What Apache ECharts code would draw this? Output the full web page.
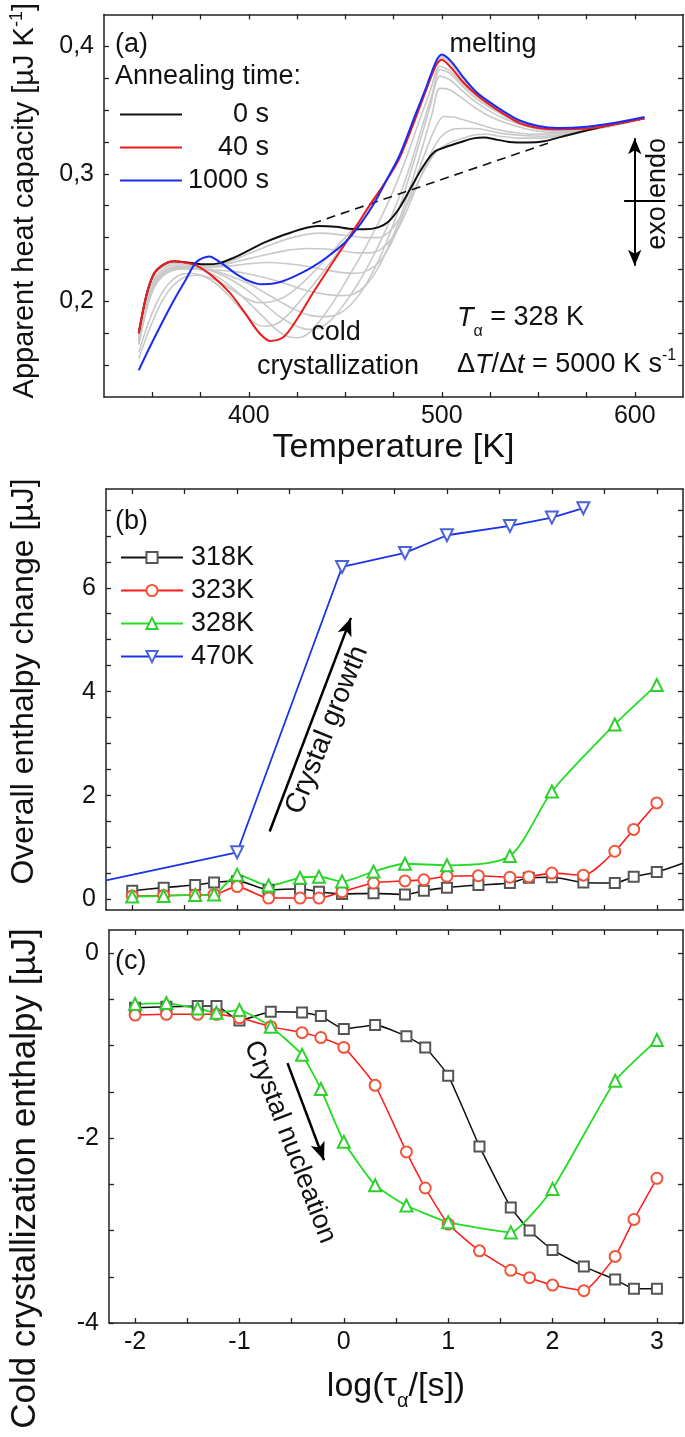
<!DOCTYPE html>
<html><head><meta charset="utf-8">
<script src="https://cdn.jsdelivr.net/npm/echarts@6/dist/echarts.min.js"></script>
<style>html,body{margin:0;padding:0;background:#fff}#c{width:685px;height:1437px}</style>
</head><body><div id="c"></div>
<script>
// ---------- Panel (a): apparent heat capacity vs temperature ----------
const cp_0s = [[343,0.175],[347,0.205],[351,0.222],[356,0.229],[361,0.2315],[368,0.2305],[378,0.229],[385,0.230],[392,0.234],[400,0.240],[408,0.246],[418,0.252],[428,0.257],[436,0.259],[445,0.2585],[452,0.257],[460,0.2565],[467,0.258],[472,0.262],[478,0.273],[484,0.289],[490,0.305],[496,0.317],[502,0.321],[510,0.325],[517,0.328],[522,0.3285],[528,0.327],[535,0.325],[545,0.3245],[553,0.3255],[562,0.329],[575,0.334],[590,0.339],[605,0.3435]];
const cp_40s = [[343,0.175],[347,0.205],[351,0.222],[356,0.229],[361,0.2315],[367,0.2305],[373,0.228],[381,0.220],[390,0.207],[398,0.191],[405,0.176],[411,0.169],[418,0.172],[425,0.186],[433,0.206],[442,0.227],[452,0.250],[462,0.274],[471,0.294],[478,0.312],[486,0.342],[492,0.366],[497,0.385],[500,0.3895],[505,0.383],[511,0.372],[518,0.362],[525,0.354],[532,0.347],[540,0.340],[550,0.336],[560,0.335],[575,0.3355],[590,0.339],[605,0.3435]];
const cp_1000s = [[343,0.146],[349,0.165],[356,0.186],[362,0.203],[367,0.216],[373,0.231],[379.5,0.2352],[386,0.2298],[393,0.222],[400,0.216],[406,0.2135],[412,0.2138],[418,0.216],[425,0.2205],[432,0.226],[440,0.234],[450,0.2463],[458,0.261],[465,0.277],[471,0.294],[478,0.314],[486,0.345],[492,0.368],[497,0.388],[500,0.3935],[505,0.388],[511,0.376],[518,0.364],[525,0.356],[532,0.349],[540,0.342],[550,0.3375],[560,0.336],[575,0.337],[590,0.340],[605,0.3445]];
const cp_g1 = [[343,0.173],[347,0.202],[351,0.220],[356,0.2275],[361,0.230],[368,0.2295],[378,0.2275],[385,0.2285],[392,0.2325],[400,0.2375],[410,0.2435],[420,0.249],[430,0.2525],[438,0.2535],[446,0.2525],[454,0.251],[461,0.250],[467,0.250],[473,0.255],[479,0.267],[485,0.285],[491,0.303],[497,0.317],[503,0.3235],[510,0.3275],[517,0.3305],[523,0.331],[530,0.3295],[540,0.328],[553,0.328],[565,0.3315],[580,0.3358],[595,0.3405],[605,0.3435]];
const cp_g2 = [[343,0.171],[347,0.199],[351,0.217],[356,0.2255],[361,0.2285],[368,0.2285],[376,0.227],[384,0.228],[392,0.2305],[400,0.2335],[410,0.237],[420,0.240],[430,0.2415],[440,0.241],[449,0.2395],[456,0.238],[463,0.238],[469,0.2415],[475,0.251],[481,0.268],[487,0.290],[493,0.312],[499,0.328],[504,0.334],[510,0.3355],[517,0.3355],[524,0.334],[532,0.3315],[542,0.330],[553,0.3295],[565,0.3315],[580,0.3355],[595,0.3403],[605,0.3435]];
const cp_g3 = [[343,0.169],[347,0.196],[351,0.214],[356,0.2235],[361,0.227],[368,0.2272],[376,0.2265],[384,0.227],[392,0.228],[400,0.2295],[410,0.2305],[420,0.2295],[430,0.2275],[440,0.2245],[449,0.2225],[456,0.222],[462,0.2245],[468,0.2315],[474,0.246],[480,0.268],[486,0.294],[492,0.319],[497,0.337],[501,0.345],[506,0.3445],[512,0.342],[520,0.3385],[528,0.335],[537,0.3325],[547,0.331],[558,0.3315],[570,0.3335],[585,0.337],[605,0.3435]];
const cp_g4 = [[343,0.167],[347,0.194],[351,0.2115],[356,0.2215],[361,0.225],[368,0.2258],[376,0.2255],[384,0.2245],[392,0.2235],[400,0.2215],[410,0.218],[420,0.2135],[430,0.2085],[440,0.2055],[448,0.2045],[454,0.2055],[460,0.2115],[466,0.2235],[472,0.2415],[478,0.264],[484,0.291],[490,0.321],[495,0.347],[499,0.367],[504,0.366],[510,0.360],[517,0.352],[525,0.345],[533,0.340],[542,0.336],[552,0.333],[562,0.3325],[577,0.3345],[592,0.3388],[605,0.3435]];
const cp_g5 = [[343,0.166],[347,0.193],[351,0.211],[356,0.2205],[361,0.2245],[368,0.2255],[376,0.225],[384,0.223],[392,0.219],[400,0.214],[408,0.207],[416,0.200],[424,0.1935],[432,0.189],[440,0.188],[447,0.1905],[453,0.1975],[459,0.209],[465,0.225],[471,0.245],[477,0.269],[483,0.297],[489,0.327],[494,0.353],[499,0.3766],[504,0.374],[510,0.366],[517,0.357],[525,0.349],[533,0.343],[542,0.338],[552,0.3345],[562,0.3335],[577,0.335],[592,0.339],[605,0.3435]];
const cp_g6 = [[343,0.168],[347,0.196],[351,0.2135],[356,0.2225],[361,0.226],[368,0.2265],[376,0.2255],[384,0.222],[392,0.216],[400,0.208],[408,0.198],[416,0.188],[424,0.181],[431,0.178],[437,0.1795],[443,0.186],[450,0.199],[457,0.215],[464,0.234],[471,0.256],[478,0.282],[484,0.308],[490,0.338],[495,0.362],[499,0.3818],[504,0.379],[510,0.370],[517,0.360],[525,0.352],[533,0.345],[542,0.3395],[552,0.3355],[562,0.334],[577,0.3352],[592,0.3393],[605,0.3435]];
const cp_g7 = [[343,0.170],[347,0.198],[351,0.215],[356,0.2235],[361,0.2265],[368,0.2265],[376,0.2245],[384,0.219],[392,0.210],[400,0.199],[408,0.187],[415,0.177],[421,0.172],[426,0.1715],[431,0.175],[437,0.185],[444,0.200],[452,0.220],[460,0.241],[468,0.264],[475,0.287],[482,0.314],[488,0.340],[494,0.365],[499,0.3844],[504,0.381],[510,0.372],[517,0.362],[525,0.353],[533,0.346],[542,0.340],[552,0.336],[562,0.3345],[577,0.3355],[592,0.3395],[605,0.3435]];
const cp_g8 = [[343,0.160],[348,0.183],[353,0.201],[358,0.213],[364,0.2205],[370,0.222],[376,0.220],[383,0.214],[390,0.204],[397,0.192],[403,0.183],[408,0.1805],[414,0.182],[420,0.189],[428,0.203],[436,0.218],[445,0.236],[455,0.256],[464,0.277],[472,0.297],[479,0.316],[486,0.344],[492,0.367],[497,0.386],[500,0.391],[505,0.386],[511,0.374],[518,0.363],[525,0.355],[532,0.348],[540,0.341],[550,0.337],[560,0.3355],[575,0.336],[590,0.3395],[605,0.344]];
const cp_g9 = [[343,0.155],[348,0.176],[354,0.197],[360,0.211],[366,0.2185],[372,0.2205],[378,0.2195],[385,0.215],[392,0.2085],[399,0.202],[405,0.199],[411,0.1995],[418,0.203],[425,0.2105],[433,0.222],[441,0.235],[450,0.250],[459,0.266],[467,0.283],[474,0.302],[480,0.320],[486,0.345],[492,0.368],[497,0.387],[500,0.392],[505,0.387],[511,0.375],[518,0.3635],[525,0.3555],[532,0.3485],[540,0.3415],[550,0.337],[560,0.3357],[575,0.3365],[590,0.3398],[605,0.344]];
const cp_baseline = [[433,0.261],[555,0.324]];
const tempTicks = [350,375,400,425,450,475,500,525,550,575,600];
const tempLabels = [400,500,600];
const cpTicks = [0.15,0.175,0.2,0.225,0.25,0.275,0.3,0.325,0.35,0.375,0.4];
const cpLabels = [0.2,0.3,0.4];

// ---------- Panels (b) and (c): log(annealing time) ----------
const logTime = [-2,-1.7,-1.4,-1.22,-1,-0.7,-0.4,-0.22,0,0.3,0.6,0.78,1,1.3,1.6,1.78,2,2.3,2.6,2.78,3];
const logTime328 = [-2,-1.7,-1.4,-1.22,-1,-0.7,-0.4,-0.22,0,0.3,0.6,1,1.6,2,2.6,3];
const logTime470 = [-2.25,-1,0,0.6,1,1.6,2,2.3];
const dH_318K = [0.17,0.23,0.28,0.33,0.36,0.19,0.21,0.15,0.11,0.12,0.10,0.17,0.23,0.28,0.32,0.42,0.43,0.33,0.32,0.44,0.53];
const dH_318K_tail = [3.25,0.70];
const dH_323K = [0.07,0.08,0.09,0.10,0.25,0.03,0.03,0.03,0.15,0.32,0.36,0.38,0.45,0.46,0.43,0.44,0.51,0.47,0.93,1.35,1.86];
const dH_328K = [0.06,0.07,0.09,0.10,0.48,0.27,0.42,0.44,0.35,0.54,0.69,0.66,0.84,2.08,3.37,4.13];
const dH_470K = [0.37,0.91,6.40,6.67,7.01,7.19,7.35,7.53];
const cc_318K = [-0.59,-0.58,-0.573,-0.573,-0.73,-0.634,-0.641,-0.68,-0.82,-0.777,-0.90,-1.02,-1.325,-2.09,-2.75,-3.0,-3.21,-3.39,-3.53,-3.63,-3.63];
const cc_323K = [-0.67,-0.662,-0.662,-0.662,-0.70,-0.795,-0.86,-0.913,-1.02,-1.43,-2.15,-2.54,-2.93,-3.22,-3.43,-3.51,-3.59,-3.65,-3.28,-2.88,-2.435];
const cc_328K = [-0.55,-0.54,-0.60,-0.645,-0.616,-0.795,-1.10,-1.47,-2.04,-2.51,-2.73,-2.91,-3.02,-2.55,-1.38,-0.94];
const logTicks = [-2,-1.5,-1,-0.5,0,0.5,1,1.5,2,2.5,3];
const logLabels = [-2,-1,0,1,2,3];
const dHTicks = [0,0.5,1,1.5,2,2.5,3,3.5,4,4.5,5,5.5,6,6.5,7,7.5];
const dHLabels = [0,2,4,6];
const ccTicks = [-4,-3.5,-3,-2.5,-2,-1.5,-1,-0.5,0];
const ccLabels = [-4,-2,0];

const FONT = "'Liberation Sans', Arial, Helvetica, sans-serif";
const AX = '#222';
const TXT = '#111';

function xAx(g, min, max, ticks, labels, pos, showLabel, name, gap, extra) {
  return Object.assign({
    type: 'value', gridIndex: g, min: min, max: max, position: pos,
    axisLine: {show: true, onZero: false, lineStyle: {color: AX, width: 1.5}},
    axisTick: {show: true, inside: true, length: 5, customValues: ticks, lineStyle: {color: AX, width: 1.3}},
    axisLabel: {show: showLabel, customValues: labels, fontSize: 25, fontFamily: FONT, color: TXT, margin: 7},
    splitLine: {show: false},
    name: name || '', nameLocation: 'middle', nameGap: gap || 0,
    nameTextStyle: {fontSize: 34, fontFamily: FONT, color: TXT}
  }, extra || {});
}
function yAx(g, min, max, ticks, labels, pos, showLabel, name, gap, extra) {
  return Object.assign({
    type: 'value', gridIndex: g, min: min, max: max, position: pos,
    axisLine: {show: true, onZero: false, lineStyle: {color: AX, width: 1.5}},
    axisTick: {show: true, inside: true, length: 5, customValues: ticks, lineStyle: {color: AX, width: 1.3}},
    axisLabel: {show: showLabel, customValues: labels, fontSize: 25, fontFamily: FONT, color: TXT, margin: 10},
    splitLine: {show: false},
    name: name || '', nameLocation: 'middle', nameGap: gap || 0,
    nameTextStyle: {fontSize: 31, fontFamily: FONT, color: TXT}
  }, extra || {});
}

const comma = v => v.toFixed(1).replace('.', ',');

const series = [];
[cp_g1, cp_g2, cp_g3, cp_g4, cp_g5, cp_g6, cp_g7, cp_g8, cp_g9].forEach((d, i) => {
  series.push({type: 'line', name: 'gray' + (i + 1), xAxisIndex: 0, yAxisIndex: 0, data: d,
    symbol: 'none', smooth: 0.3, z: 2, lineStyle: {color: '#c9c9c9', width: 1.6}, silent: true});
});
series.push({type: 'line', name: 'baseline', xAxisIndex: 0, yAxisIndex: 0, data: cp_baseline,
  symbol: 'none', z: 3, lineStyle: {color: '#111', width: 1.6, type: [9, 6]}, silent: true,
  markLine: {silent: true, animation: false, label: {show: false}, emphasis: {disabled: true},
    lineStyle: {color: '#000', width: 2, type: 'solid'}, symbol: ['arrow', 'arrow'], symbolSize: [10, 16],
    data: [
      [{coord: [600, 0.328]}, {coord: [600, 0.228]}],
      [{coord: [594.5, 0.279], symbol: 'none'}, {coord: [615.7, 0.279], symbol: 'none'}]
    ]}
});
series.push({type: 'line', name: '0 s', xAxisIndex: 0, yAxisIndex: 0, data: cp_0s, symbol: 'none', smooth: 0.3, z: 4, lineStyle: {color: '#111', width: 2}, itemStyle: {color: '#111'}});
series.push({type: 'line', name: '40 s', xAxisIndex: 0, yAxisIndex: 0, data: cp_40s, symbol: 'none', smooth: 0.3, z: 5, lineStyle: {color: '#ee1c1c', width: 2}, itemStyle: {color: '#ee1c1c'}});
series.push({type: 'line', name: '1000 s', xAxisIndex: 0, yAxisIndex: 0, data: cp_1000s, symbol: 'none', smooth: 0.3, z: 6, lineStyle: {color: '#1a2cf0', width: 2}, itemStyle: {color: '#1a2cf0'}});

function pairs(xs, ys) { return xs.map((x, i) => [x, ys[i]]); }

// (b)
series.push({type: 'line', name: '318K', xAxisIndex: 2, yAxisIndex: 2,
  data: pairs(logTime, dH_318K).concat([{value: dH_318K_tail, symbol: 'none'}]),
  symbol: 'emptyRect', symbolSize: 10, smooth: 0.25, z: 5,
  lineStyle: {color: '#111', width: 1.6}, itemStyle: {color: '#555', borderWidth: 1.3}});
series.push({type: 'line', name: '323K', xAxisIndex: 2, yAxisIndex: 2, data: pairs(logTime, dH_323K),
  symbol: 'emptyCircle', symbolSize: 11, smooth: 0.25, z: 5,
  lineStyle: {color: '#ff1a1a', width: 1.6}, itemStyle: {color: '#f0553a', borderWidth: 1.3}});
series.push({type: 'line', name: '328K', xAxisIndex: 2, yAxisIndex: 2, data: pairs(logTime328, dH_328K),
  symbol: 'emptyTriangle', symbolSize: 12, smooth: 0.25, z: 5,
  lineStyle: {color: '#22dd22', width: 1.8}, itemStyle: {color: '#2fcf2f', borderWidth: 1.3}});
series.push({type: 'line', name: '470K', xAxisIndex: 2, yAxisIndex: 2,
  data: pairs(logTime470, dH_470K).map((p, i) => i === 0 ? {value: p, symbol: 'none'} : p),
  symbol: 'emptyTriangle', symbolRotate: 180, symbolSize: 12, z: 5,
  lineStyle: {color: '#1a33e6', width: 1.8}, itemStyle: {color: '#4a63d8', borderWidth: 1.3},
  markLine: {silent: true, animation: false, label: {show: false}, emphasis: {disabled: true},
    lineStyle: {color: '#000', width: 2.5, type: 'solid'}, symbol: ['none', 'arrow'], symbolSize: [11, 18],
    data: [[{coord: [-0.69, 1.31]}, {coord: [0.085, 5.42]}]]}
});
// (c)
series.push({type: 'line', name: '318K', xAxisIndex: 4, yAxisIndex: 4, data: pairs(logTime, cc_318K),
  symbol: 'emptyRect', symbolSize: 10, smooth: 0.15, z: 5,
  lineStyle: {color: '#111', width: 1.5}, itemStyle: {color: '#555', borderWidth: 1.3}});
series.push({type: 'line', name: '323K', xAxisIndex: 4, yAxisIndex: 4, data: pairs(logTime, cc_323K),
  symbol: 'emptyCircle', symbolSize: 11, smooth: 0.15, z: 5,
  lineStyle: {color: '#ff1a1a', width: 1.5}, itemStyle: {color: '#f0553a', borderWidth: 1.3}});
series.push({type: 'line', name: '328K', xAxisIndex: 4, yAxisIndex: 4, data: pairs(logTime328, cc_328K),
  symbol: 'emptyTriangle', symbolSize: 12, smooth: 0.15, z: 5,
  lineStyle: {color: '#22dd22', width: 1.8}, itemStyle: {color: '#2fcf2f', borderWidth: 1.3},
  markLine: {silent: true, animation: false, label: {show: false}, emphasis: {disabled: true},
    lineStyle: {color: '#000', width: 2.5, type: 'solid'}, symbol: ['none', 'arrow'], symbolSize: [11, 18],
    data: [[{coord: [-0.54, -1.19]}, {coord: [-0.19, -2.24]}]]}
});

function txt(x, y, text, st, extra) {
  return Object.assign({type: 'text', x: x, y: y, z: 100, silent: true,
    style: Object.assign({text: text, fontSize: 27, fontFamily: FONT, fill: TXT, align: 'left', verticalAlign: 'middle'}, st || {})}, extra || {});
}
const richA = {
  i: {fontSize: 27, fontFamily: FONT, fontStyle: 'italic', fill: TXT},
  n: {fontSize: 27, fontFamily: FONT, fill: TXT},
  s: {fontSize: 16, fontFamily: FONT, fill: TXT, verticalAlign: 'bottom', padding: [27, 0, 0, 0]},
  p: {fontSize: 16, fontFamily: FONT, fill: TXT, verticalAlign: 'top', padding: [0, 0, 18, 0]}
};

const graphic = [
  txt(115, 45, '(a)'),
  txt(115, 77, 'Annealing time:'),
  txt(493, 45, 'melting', {align: 'center'}),
  txt(336, 333, 'cold', {align: 'center'}),
  txt(338, 367, 'crystallization', {align: 'center'}),
  txt(457, 318, '{i|T}{s|α}{n| = 328 K}', {rich: richA}),
  txt(457, 365, '{n|Δ}{i|T}{n|/Δ}{i|t}{n| = 5000 K s}{p|-1}', {rich: richA}),
  txt(658, 168, 'endo', {align: 'center'}, {rotation: Math.PI / 2}),
  txt(658, 228, 'exo', {align: 'center'}, {rotation: Math.PI / 2}),
  txt(115, 522, '(b)'),
  txt(327, 730, 'Crystal growth', {align: 'center', fontSize: 28}, {rotation: 68 * Math.PI / 180}),
  txt(115, 962, '(c)'),
  txt(290, 1142, 'Crystal nucleation', {align: 'center'}, {rotation: -69 * Math.PI / 180})
];

const option = {
  animation: false,
  backgroundColor: '#fff',
  textStyle: {fontFamily: FONT},
  grid: [
    {left: 102, top: 13, width: 581, height: 384},
    {left: 102, top: 489, width: 581, height: 421},
    {left: 102, top: 930, width: 581, height: 393}
  ],
  xAxis: [
    xAx(0, 325, 625, tempTicks, tempLabels, 'bottom', true, 'Temperature [K]', 34),
    xAx(0, 325, 625, tempTicks, [], 'top', false),
    xAx(1, -2.25, 3.25, logTicks, [], 'bottom', false),
    xAx(1, -2.25, 3.25, logTicks, [], 'top', false),
    xAx(2, -2.25, 3.25, logTicks, logLabels, 'bottom', true, 'log(τ{s|α}/[s])', 40,
      {nameTextStyle: {fontSize: 34, fontFamily: FONT, color: TXT,
        rich: {s: {fontSize: 20, fontFamily: FONT, color: TXT, verticalAlign: 'bottom', padding: [28, 0, 0, 0]}}}}),
    xAx(2, -2.25, 3.25, logTicks, [], 'top', false)
  ],
  yAxis: [
    yAx(0, 0.125, 0.425, cpTicks, cpLabels, 'left', true, 'Apparent heat capacity [µJ K{p|-1}]', 62,
      {axisLabel: {customValues: cpLabels, fontSize: 25, fontFamily: FONT, color: TXT, margin: 10, formatter: comma},
       nameTextStyle: {fontSize: 29, fontFamily: FONT, color: TXT, padding: [0, 0, 0, 10],
        rich: {p: {fontSize: 18, fontFamily: FONT, color: TXT, verticalAlign: 'top', padding: [0, 0, 16, 0]}}}}),
    yAx(0, 0.125, 0.425, cpTicks, [], 'right', false),
    yAx(1, -0.2, 7.9, dHTicks, dHLabels, 'left', true, 'Overall enthalpy change [µJ]', 66,
      {nameTextStyle: {fontSize: 32, fontFamily: FONT, color: TXT, padding: [0, 0, 0, 36]}}),
    yAx(1, -0.2, 7.9, dHTicks, [], 'right', false),
    yAx(2, -4, 0.25, ccTicks, ccLabels, 'left', true, 'Cold crystallization enthalpy [µJ]', 66,
      {nameTextStyle: {fontSize: 35, fontFamily: FONT, color: TXT, padding: [0, 104, 0, 0]}}),
    yAx(2, -4, 0.25, ccTicks, [], 'right', false)
  ],
  legend: [
    {data: ['0 s', '40 s', '1000 s'], orient: 'vertical', left: 115, top: 96, itemWidth: 62, itemHeight: 2,
      itemGap: 6, icon: 'rect', selectedMode: false,
      formatter: n => '{r|' + n + '}',
      textStyle: {fontSize: 27, fontFamily: FONT, color: TXT,
        rich: {r: {width: 82, align: 'right', fontSize: 27, fontFamily: FONT, color: TXT}}}},
    {data: ['318K', '323K', '328K', '470K'], orient: 'vertical', left: 115, top: 539, itemWidth: 62, itemHeight: 14,
      itemGap: 6, selectedMode: false,
      textStyle: {fontSize: 27, fontFamily: FONT, color: TXT, padding: [0, 0, 0, 3]}}
  ],
  graphic: graphic,
  series: series
};

const chart = echarts.init(document.getElementById('c'), null, {renderer: 'canvas', width: 685, height: 1437});
chart.setOption(option);
</script>
</body></html>
